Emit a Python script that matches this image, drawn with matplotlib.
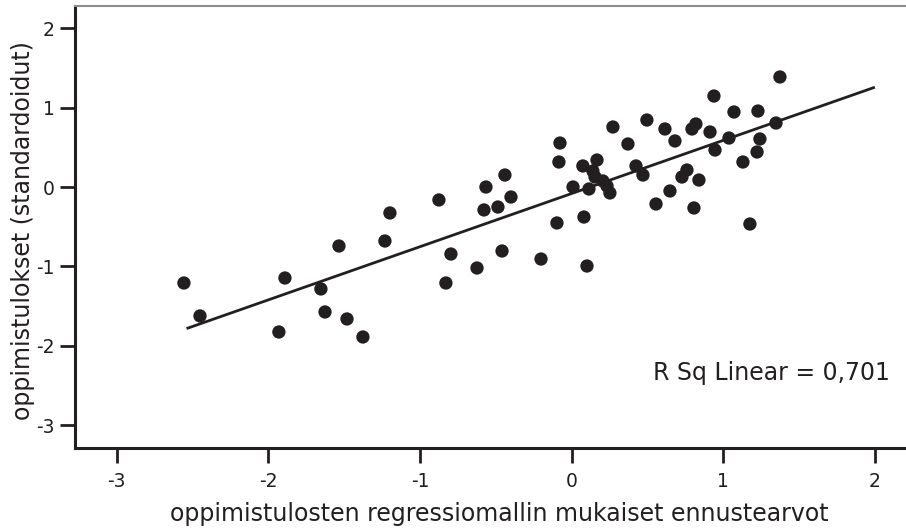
import matplotlib
matplotlib.use("Agg")
import matplotlib.pyplot as plt
import numpy as np

# Data
pred_x = [-2.556, -2.450, -1.930, -1.890, -1.653, -1.626, -1.534, -1.481, -1.376,
          -1.231, -1.198, -0.875, -0.829, -0.796, -0.624, -0.565, -0.440, -0.578,
          -0.486, -0.400, -0.459, -0.202, -0.097, -0.084, -0.077, 0.009, 0.114,
          0.074, 0.167, 0.140, 0.154, 0.206, 0.233, 0.252, 0.081, 0.101, 0.272,
          0.371, 0.424, 0.470, 0.496, 0.556, 0.615, 0.648, 0.681, 0.727, 0.760,
          0.793, 0.819, 0.806, 0.839, 0.912, 0.938, 0.945, 1.037, 1.070, 1.129,
          1.175, 1.222, 1.228, 1.241, 1.347, 1.373]
obs_y = [-1.208, -1.623, -1.825, -1.145, -1.283, -1.573, -0.742, -1.661, -1.888,
         -0.679, -0.326, -0.162, -1.208, -0.843, -1.019, 0.001, 0.152, -0.288,
         -0.251, -0.125, -0.805, -0.906, -0.452, 0.316, 0.555, 0.001, -0.024,
         0.266, 0.341, 0.203, 0.127, 0.077, 0.014, -0.074, -0.377, -0.994, 0.757,
         0.543, 0.266, 0.152, 0.845, -0.213, 0.732, -0.049, 0.581, 0.127, 0.215,
         0.732, 0.795, -0.263, 0.089, 0.694, 1.147, 0.467, 0.618, 0.946, 0.316,
         -0.465, 0.442, 0.958, 0.606, 0.807, 1.387]

fit_slope = 0.670
fit_intercept = -0.081
fit_x_range = [-2.53, 1.99]

x_ticks = [-3, -2, -1, 0, 1, 2]
y_ticks = [-3, -2, -1, 0, 1, 2]
r2_text = "R Sq Linear = 0,701"
x_label = "oppimistulosten regressiomallin mukaiset ennustearvot"
y_label = "oppimistulokset (standardoidut)"

plt.rcParams['font.family'] = ['DejaVu Sans']
W, H = 906, 530
fig = plt.figure(figsize=(W / 100, H / 100), dpi=100)
left_px, right_px, top_px, bottom_px = 75, 906, 6, 447.5
ax = fig.add_axes([left_px / W, 1 - bottom_px / H,
                   (right_px - left_px) / W, (bottom_px - top_px) / H])

ink = "#231f20"
ax.scatter(pred_x, obs_y, s=92, color=ink, edgecolors="none", zorder=3)

fx = np.array(fit_x_range)
ax.plot(fx, fit_slope * fx + fit_intercept, color=ink, lw=2.0, zorder=2)

ax.set_xlim(-3.274, 2.204)
ax.set_ylim(-3.280, 2.281)
ax.set_xticks(x_ticks)
ax.set_yticks(y_ticks)
ax.set_xticklabels([str(t) for t in x_ticks])
ax.set_yticklabels([str(t) for t in y_ticks])

for s in ["left", "bottom"]:
    ax.spines[s].set_color(ink)
    ax.spines[s].set_linewidth(2.2)
ax.spines["top"].set_color("#8c8c8c")
ax.spines["top"].set_linewidth(1.5)
ax.spines["right"].set_visible(False)

ax.tick_params(axis="both", direction="out", length=10.5, width=2.0,
               color=ink, labelsize=13.5, labelcolor=ink)
ax.tick_params(axis="x", pad=7)
ax.tick_params(axis="y", pad=4.3)

ax.set_xlabel(x_label, fontsize=17, color=ink)
ax.xaxis.set_label_coords(499.5 / W, 1 - 502 / H, transform=fig.transFigure)
ax.set_ylabel(y_label, fontsize=17, color=ink)
ax.yaxis.set_label_coords(35 / W, 1 - 231 / H, transform=fig.transFigure)

ax.text(2.098, -2.429, r2_text, fontsize=17, color=ink,
        ha="right", va="baseline")

fig.savefig("out.png", dpi=100)
